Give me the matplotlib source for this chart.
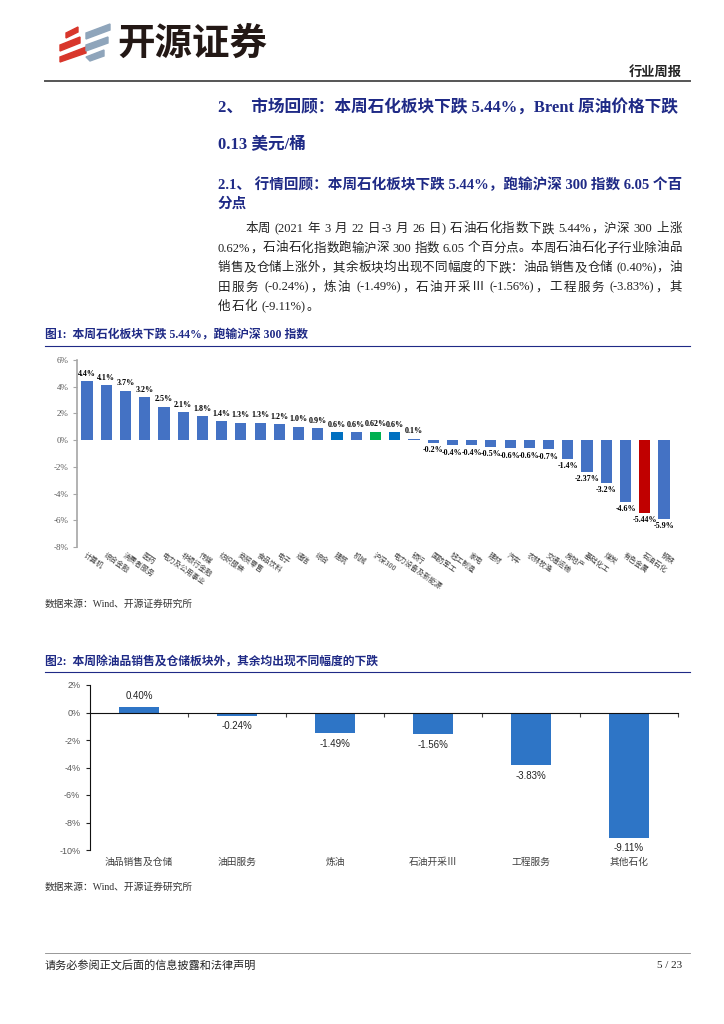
import re
import matplotlib
matplotlib.use("Agg")
import matplotlib.pyplot as plt
from matplotlib.patches import Polygon
from matplotlib.lines import Line2D

# ---- data ----
industries = ["计算机", "综合金融", "消费者服务", "医药", "电力及公用事业", "非银行金融",
              "传媒", "纺织服装", "商贸零售", "食品饮料", "电子", "通信", "综合", "建筑",
              "机械", "沪深300", "电力设备及新能源", "银行", "国防军工", "轻工制造", "家电",
              "建材", "汽车", "农林牧渔", "交通运输", "房地产", "基础化工", "煤炭",
              "有色金属", "石油石化", "钢铁"]
ind_change = [4.4, 4.1, 3.7, 3.2, 2.5, 2.1, 1.8, 1.4, 1.3, 1.3, 1.2, 1.0, 0.9, 0.6, 0.6,
              0.62, 0.6, 0.1, -0.2, -0.4, -0.4, -0.5, -0.6, -0.6, -0.7, -1.4, -2.37,
              -3.2, -4.6, -5.44, -5.9]
ind_labels = ["4.4%", "4.1%", "3.7%", "3.2%", "2.5%", "2.1%", "1.8%", "1.4%", "1.3%",
              "1.3%", "1.2%", "1.0%", "0.9%", "0.6%", "0.6%", "0.62%", "0.6%", "0.1%",
              "-0.2%", "-0.4%", "-0.4%", "-0.5%", "-0.6%", "-0.6%", "-0.7%", "-1.4%",
              "-2.37%", "-3.2%", "-4.6%", "-5.44%", "-5.9%"]
ind_colors = {13: "#0070C0", 15: "#00B050", 16: "#0070C0", 29: "#C00000"}

sub_names = ["油品销售及仓储", "油田服务", "炼油", "石油开采Ⅲ", "工程服务", "其他石化"]
sub_change = [0.40, -0.24, -1.49, -1.56, -3.83, -9.11]
sub_labels = ["0.40%", "-0.24%", "-1.49%", "-1.56%", "-3.83%", "-9.11%"]

W, H = 724, 1024
NAVY = "#1F2A86"
SERIF = ["Liberation Serif", "Noto Sans CJK SC"]
SANS = ["Liberation Sans", "Noto Sans CJK SC"]


def fx(x):
    return x / W


def fy(y):
    return 1 - y / H


fig = plt.figure(figsize=(7.24, 10.24), dpi=100)
fig.patch.set_facecolor("white")
renderer = fig.canvas.get_renderer()


def ftext(x, y, s, **kw):
    kw.setdefault("va", "center")
    kw.setdefault("family", SERIF)
    return fig.text(fx(x), fy(y), s, **kw)


def hline(x0, x1, y, color, lw):
    fig.add_artist(Line2D([fx(x0), fx(x1)], [fy(y), fy(y)], transform=fig.transFigure,
                          color=color, lw=lw))


def justify(x0, x1, y, line, stretch=True, **kw):
    # ascii runs, single spaces and single wide chars, spread over x0..x1
    tokens = re.findall(r"[\x21-\x7e]+| |[^\s\x21-\x7e]", line)
    texts, widths = [], []
    for tok in tokens:
        if tok == " ":
            texts.append(None)
            widths.append(3.0)
        else:
            t = ftext(0, y, tok, **kw)
            texts.append(t)
            widths.append(t.get_window_extent(renderer).width)
    gap = (x1 - x0 - sum(widths)) / (len(texts) - 1) if stretch else 0.8
    x = x0
    for t, w in zip(texts, widths):
        if t is not None:
            t.set_x(fx(x))
        x += w + gap


# ---- header / logo ----
red_bits = [[(60, 45), (80, 37), (80, 43), (60, 51)],
            [(60, 57), (86, 47), (86, 53), (60, 62)],
            [(66, 33), (78, 27), (78, 32), (66, 38)]]
grey_bits = [[(86, 33), (110, 24), (110, 30), (86, 39)],
             [(86, 45), (108, 37), (108, 43), (86, 51)],
             [(86, 57), (104, 50), (104, 56), (90, 61)]]
for pts in red_bits:
    fig.add_artist(Polygon([(fx(a), fy(b)) for a, b in pts], closed=True,
                           transform=fig.transFigure, color="#D8362B"))
for pts in grey_bits:
    fig.add_artist(Polygon([(fx(a), fy(b)) for a, b in pts], closed=True,
                           transform=fig.transFigure, color="#8FA5BB"))
ftext(117, 43, "开源证券", fontsize=27, fontweight="bold", family="Noto Sans CJK SC",
      color="#231815")
ftext(682, 73, "行业周报", fontsize=9.5, fontweight="bold", ha="right", color="#222222")
hline(45, 690, 81, "#555555", 1.4)

# ---- headings and body ----
ftext(218, 108, "2、  市场回顾：本周石化板块下跌 5.44%，Brent 原油价格下跌",
      fontsize=12, fontweight="bold", color=NAVY)
ftext(218, 145, "0.13 美元/桶", fontsize=12, fontweight="bold", color=NAVY)
ftext(218, 185, "2.1、 行情回顾：本周石化板块下跌 5.44%，跑输沪深 300 指数 6.05 个百",
      fontsize=10.5, fontweight="bold", color=NAVY)
ftext(218, 204, "分点", fontsize=10.5, fontweight="bold", color=NAVY)

body = [(245, "本周 (2021 年 3 月 22 日-3 月 26 日) 石油石化指数下跌 5.44%，沪深 300 上涨"),
        (218, "0.62%，石油石化指数跑输沪深 300 指数 6.05 个百分点。本周石油石化子行业除油品"),
        (218, "销售及仓储上涨外，其余板块均出现不同幅度的下跌：油品销售及仓储 (0.40%)，油"),
        (218, "田服务 (-0.24%)，炼油 (-1.49%)，石油开采Ⅲ (-1.56%)，工程服务 (-3.83%)，其"),
        (218, "他石化 (-9.11%)。")]
for i, (x0, line) in enumerate(body):
    justify(x0, 682, 229 + i * 19.5, line, stretch=(i < len(body) - 1), fontsize=9,
            color="#222222")

# ---- figure 1 ----
ftext(45, 335, "图1:  本周石化板块下跌 5.44%，跑输沪深 300 指数", fontsize=8.5,
      fontweight="bold", color=NAVY)
hline(45, 690, 346, NAVY, 0.8)

ax1 = fig.add_axes([fx(77), fy(547), 597 / W, 187 / H])
xs = list(range(len(industries)))
cols = [ind_colors.get(i, "#4472C4") for i in xs]
bars = ax1.bar(xs, ind_change, width=0.58, color=cols)
for b, v, lab in zip(bars, ind_change, ind_labels):
    x = b.get_x() + b.get_width() / 2
    if v >= 0:
        ax1.annotate(lab, (x, v), xytext=(0, 2.5), textcoords="offset points", ha="center",
                     va="bottom", fontsize=5.8, fontweight="bold", family=SERIF)
    else:
        ax1.annotate(lab, (x, v), xytext=(0, -2.5), textcoords="offset points",
                     ha="center", va="top", fontsize=5.8, fontweight="bold", family=SERIF)
ax1.set_xlim(-0.52, 30.52)
ax1.set_ylim(-8, 6)
ax1.set_yticks([6, 4, 2, 0, -2, -4, -6, -8])
ax1.set_yticklabels(["6%", "4%", "2%", "0%", "-2%", "-4%", "-6%", "-8%"],
                    family=SERIF, fontsize=6.5, color="#595959")
ax1.set_xticks(xs)
ax1.set_xticklabels(industries, rotation=-35, ha="left", va="top",
                    rotation_mode="anchor", family="Noto Sans CJK SC", fontsize=5.2,
                    color="#404040")
ax1.tick_params(axis="x", length=0, pad=3)
ax1.tick_params(axis="y", length=3, width=0.8, color="#A6A6A6", pad=3)
for s in ["top", "right", "bottom"]:
    ax1.spines[s].set_visible(False)
ax1.spines["left"].set_color("#A6A6A6")
ax1.spines["left"].set_linewidth(1.2)

ftext(45, 604, "数据来源：Wind、开源证券研究所", fontsize=7, color="#333333")

# ---- figure 2 ----
ftext(45, 662, "图2:  本周除油品销售及仓储板块外，其余均出现不同幅度的下跌", fontsize=8.5,
      fontweight="bold", color=NAVY)
hline(45, 690, 672, NAVY, 0.8)

ax2 = fig.add_axes([fx(90), fy(850), 588 / W, 165 / H])
xs2 = list(range(len(sub_names)))
bars2 = ax2.bar(xs2, sub_change, width=0.41, color="#2E75C6")
for b, v, lab in zip(bars2, sub_change, sub_labels):
    x = b.get_x() + b.get_width() / 2
    if v >= 0:
        ax2.annotate(lab, (x, v), xytext=(0, 4), textcoords="offset points", ha="center",
                     va="bottom", fontsize=7, family=SANS, color="#222222")
    else:
        ax2.annotate(lab, (x, v), xytext=(0, -4), textcoords="offset points", ha="center",
                     va="top", fontsize=7, family=SANS, color="#222222")
ax2.set_xlim(-0.5, 5.5)
ax2.set_ylim(-10, 2)
ax2.set_yticks([2, 0, -2, -4, -6, -8, -10])
ax2.set_yticklabels(["2%", "0%", "-2%", "-4%", "-6%", "-8%", "-10%"], family=SANS,
                    fontsize=6.5, color="#595959")
ax2.tick_params(axis="y", length=3, width=0.8, color="#222222", pad=4)
ax2.spines["bottom"].set_position(("data", 0))
ax2.spines["bottom"].set_color("#111111")
ax2.spines["left"].set_color("#111111")
for s in ["top", "right"]:
    ax2.spines[s].set_visible(False)
ax2.set_xticks([0.5, 1.5, 2.5, 3.5, 4.5, 5.5])
ax2.set_xticklabels([])
ax2.tick_params(axis="x", length=3, width=0.8, color="#444444", direction="out")
sec = ax2.secondary_xaxis("bottom")
sec.set_xticks(xs2)
sec.set_xticklabels(sub_names, family="Noto Sans CJK SC", fontsize=7, color="#404040")
sec.tick_params(length=0, pad=5)
sec.spines["bottom"].set_visible(False)

ftext(45, 887, "数据来源：Wind、开源证券研究所", fontsize=7, color="#333333")

# ---- footer ----
hline(45, 690, 953, "#888888", 0.6)
ftext(45, 965, "请务必参阅正文后面的信息披露和法律声明", fontsize=8, color="#222222")
ftext(682, 965, "5 / 23", fontsize=8, ha="right", color="#222222")

fig.savefig("out.png", dpi=100, facecolor="white")
